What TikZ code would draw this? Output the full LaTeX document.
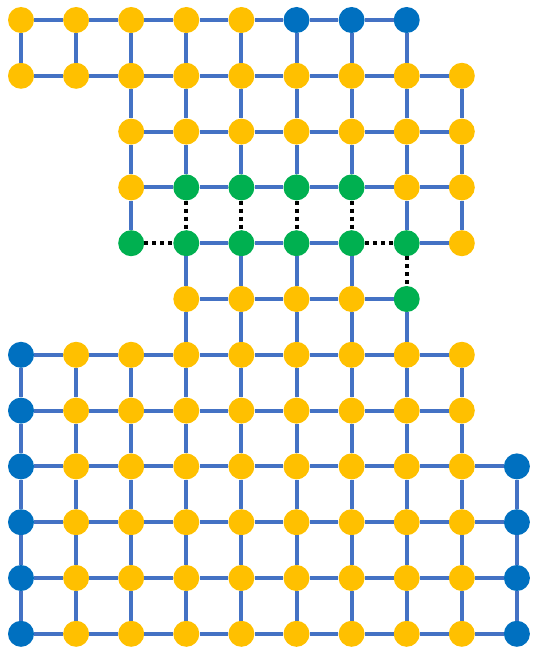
\documentclass[tikz,border=0pt]{standalone}
\definecolor{ylw}{HTML}{FFC000}
\definecolor{bdot}{HTML}{0070C0}
\definecolor{gdot}{HTML}{00B050}
\definecolor{edgeblue}{HTML}{4472C4}
\tikzset{
  dotnode/.style={circle,inner sep=0pt,minimum size=26pt,draw=none},
  yn/.style={dotnode,fill=ylw},
  bn/.style={dotnode,fill=bdot},
  gn/.style={dotnode,fill=gdot},
  link/.style={draw=edgeblue,line width=4pt},
  dotlink/.style={draw=black,line width=4pt,dash pattern=on 4pt off 4pt}
}
\newcommand\rowdots[4]{%
  \foreach \c in {#2,...,#3}{\node[#4] (n-#1-\c) at ({21+55.1*\c},{20+55.8*#1}) {};}}
\newcommand\hedges[4]{%
  \foreach \c [evaluate=\c as \d using {int(\c+1)}] in {#2,...,#3}{\draw[#4] (n-#1-\c) -- (n-#1-\d);}}
\newcommand\vedges[4]{%
  \pgfmathtruncatemacro\rr{#1+1}%
  \foreach \c in {#2,...,#3}{\draw[#4] (n-#1-\c) -- (n-\rr-\c);}}
\begin{document}
\begin{tikzpicture}[x=1pt,y=-1pt]
\useasboundingbox (0,0) rectangle (533,650);
% nodes
\rowdots{0}{0}{4}{yn} \rowdots{0}{5}{7}{bn}
\rowdots{1}{0}{8}{yn}
\rowdots{2}{2}{8}{yn}
\rowdots{3}{2}{2}{yn} \rowdots{3}{3}{6}{gn} \rowdots{3}{7}{8}{yn}
\rowdots{4}{2}{7}{gn} \rowdots{4}{8}{8}{yn}
\rowdots{5}{3}{6}{yn} \rowdots{5}{7}{7}{gn}
\rowdots{6}{0}{0}{bn} \rowdots{6}{1}{8}{yn}
\rowdots{7}{0}{0}{bn} \rowdots{7}{1}{8}{yn}
\foreach \r in {8,...,11}{\rowdots{\r}{0}{0}{bn} \rowdots{\r}{1}{8}{yn} \rowdots{\r}{9}{9}{bn}}
% horizontal edges
\hedges{0}{0}{6}{link}
\hedges{1}{0}{7}{link}
\hedges{2}{2}{7}{link}
\hedges{3}{2}{7}{link}
\hedges{4}{3}{5}{link} \hedges{4}{7}{7}{link}
\hedges{4}{2}{2}{dotlink} \hedges{4}{6}{6}{dotlink}
\hedges{5}{3}{6}{link}
\hedges{6}{0}{7}{link}
\hedges{7}{0}{7}{link}
\foreach \r in {8,...,11}{\hedges{\r}{0}{8}{link}}
% vertical edges
\vedges{0}{0}{7}{link}
\vedges{1}{2}{8}{link}
\vedges{2}{2}{8}{link}
\vedges{3}{2}{2}{link} \vedges{3}{7}{8}{link} \vedges{3}{3}{6}{dotlink}
\vedges{4}{3}{6}{link} \vedges{4}{7}{7}{dotlink}
\vedges{5}{3}{7}{link}
\vedges{6}{0}{8}{link}
\vedges{7}{0}{8}{link}
\foreach \r in {8,9,10}{\vedges{\r}{0}{9}{link}}
\end{tikzpicture}
\end{document}
